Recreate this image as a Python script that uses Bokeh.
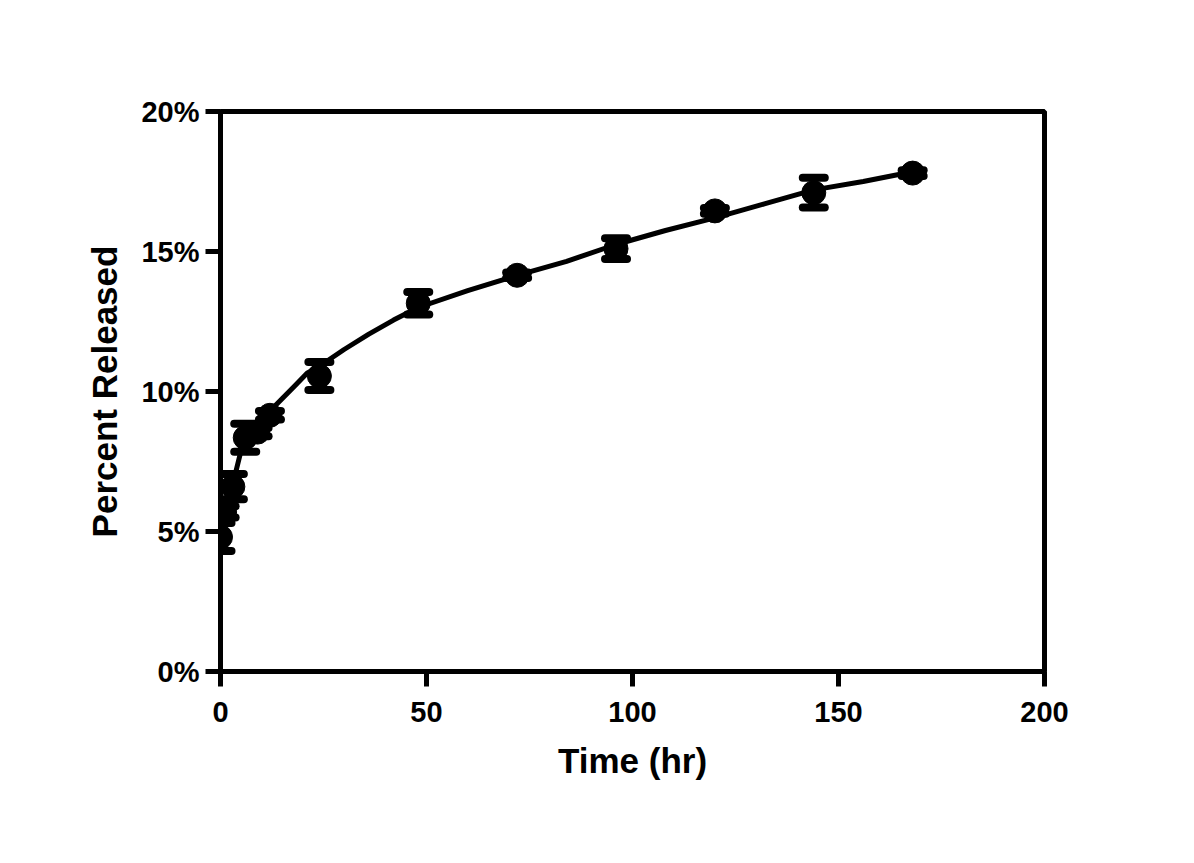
from bokeh.plotting import figure
from bokeh.models import (ColumnDataSource, Range1d, FixedTicker, PrintfTickFormatter,
                          Whisker, TeeHead)
from bokeh.embed import file_html
from bokeh.resources import INLINE

# measured release data
time_hr = [0, 1, 3, 6, 9, 12, 24, 48, 72, 96, 120, 144, 168]
pct_released = [4.8, 5.7, 6.6, 8.35, 8.55, 9.15, 10.55, 13.15, 14.15, 15.1, 16.45, 17.1, 17.8]
pct_err = [0.5, 0.2, 0.45, 0.5, 0.15, 0.15, 0.5, 0.4, 0.1, 0.37, 0.1, 0.53, 0.1]

# fitted curve
fit_time = [0, 1, 2, 3, 4, 5, 6, 8, 10, 12, 15, 18, 21, 24, 30, 36, 42, 48, 60, 72,
            84, 96, 108, 120, 132, 144, 156, 168]
fit_pct = [4.8, 5.7, 6.2, 6.7, 7.3, 7.9, 8.3, 8.7, 9.0, 9.3, 9.75, 10.2, 10.65, 10.9,
           11.5, 12.05, 12.55, 13.0, 13.6, 14.15, 14.65, 15.25, 15.75, 16.2, 16.7,
           17.2, 17.5, 17.85]

x_ticks = [0, 50, 100, 150, 200]
y_ticks = [0, 5, 10, 15, 20]

FONT = "Liberation Sans"

src = ColumnDataSource(data=dict(
    t=time_hr, y=pct_released,
    lo=[v - e for v, e in zip(pct_released, pct_err)],
    hi=[v + e for v, e in zip(pct_released, pct_err)],
))
fit_src = ColumnDataSource(data=dict(t=fit_time, y=fit_pct))

p = figure(width=1178, height=847, output_backend="svg", toolbar_location=None,
           x_range=Range1d(0, 200), y_range=Range1d(0, 20),
           min_border_left=220, min_border_right=134, min_border_top=111,
           min_border_bottom=176)

p.background_fill_color = "white"
p.border_fill_color = "white"
p.grid.visible = False
p.outline_line_color = "black"
p.outline_line_width = 5

p.line("t", "y", source=fit_src, line_color="black", line_width=5)

wh = Whisker(base="t", lower="lo", upper="hi", source=src, dimension="height",
             line_color="black", line_width=6,
             upper_head=TeeHead(size=22, line_width=8, line_color="black", line_cap="round"),
             lower_head=TeeHead(size=22, line_width=8, line_color="black", line_cap="round"))
p.add_layout(wh)

p.scatter("t", "y", source=src, size=24, marker="circle",
          fill_color="black", line_color="black")

for ax in (p.xaxis[0], p.yaxis[0]):
    ax.axis_line_width = 5
    ax.axis_line_color = "black"
    ax.major_tick_line_width = 5
    ax.major_tick_line_color = "black"
    ax.major_tick_out = 15
    ax.major_tick_in = 0
    ax.minor_tick_line_color = None
    ax.major_label_text_font = FONT
    ax.major_label_text_font_style = "bold"
    ax.major_label_text_font_size = "29px"
    ax.major_label_text_color = "black"
    ax.axis_label_text_font = FONT
    ax.axis_label_text_font_style = "bold"
    ax.axis_label_text_font_size = "35px"
    ax.axis_label_text_color = "black"

p.xaxis.ticker = FixedTicker(ticks=x_ticks)
p.yaxis.ticker = FixedTicker(ticks=y_ticks)
p.yaxis.formatter = PrintfTickFormatter(format="%d%%")
p.xaxis.axis_label = "Time (hr)"
p.yaxis.axis_label = "Percent Released"
p.xaxis.major_label_standoff = 15
p.yaxis.major_label_standoff = 6
p.xaxis.axis_label_standoff = 16
p.yaxis.axis_label_standoff = 14

open("out.html", "w").write(file_html(p, INLINE))
